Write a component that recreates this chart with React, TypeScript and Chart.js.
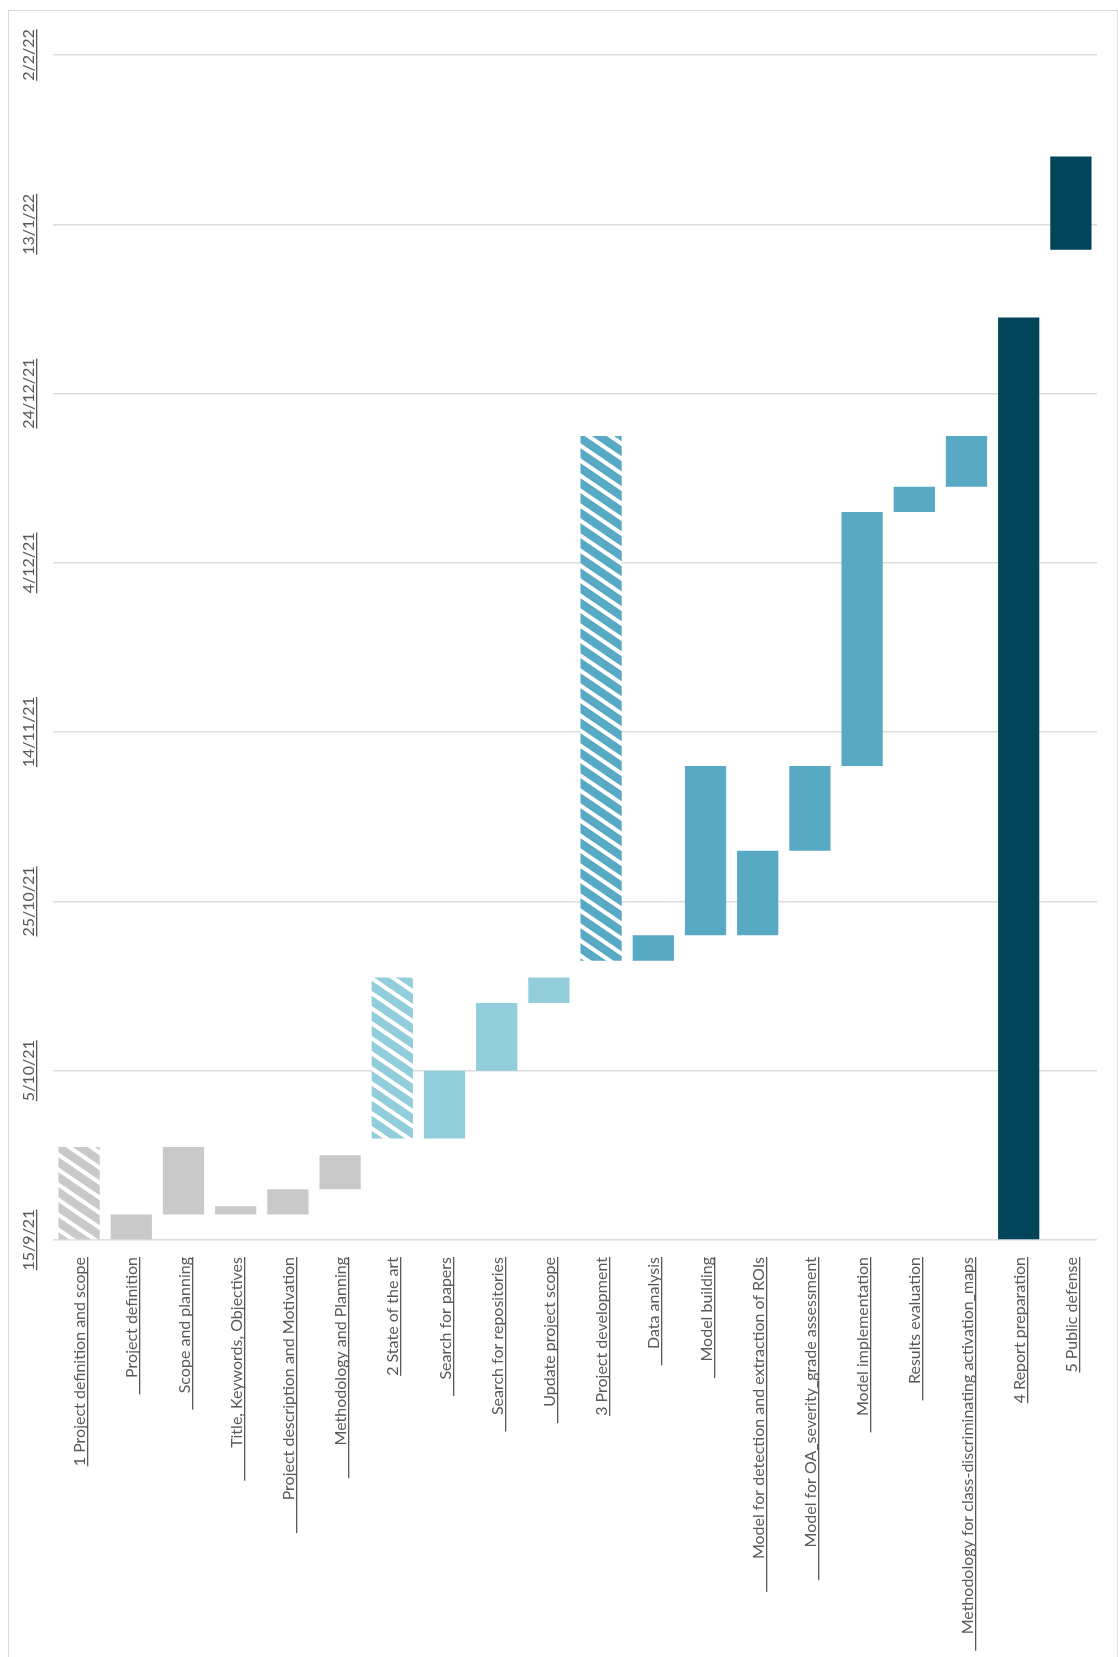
import React, { useEffect, useRef } from 'react';
import { Chart, registerables } from 'chart.js';

Chart.register(...registerables);

const categories = [
  '1 Project definition and scope',
  '    Project definition',
  '    Scope and planning',
  '        Title, Keywords, Objectives',
  '        Project description and Motivation',
  '        Methodology and Planning',
  '2 State of the art',
  '    Search for papers',
  '    Search for repositories',
  '    Update project scope',
  '3 Project development',
  '    Data analysis',
  '    Model building',
  '        Model for detection and extraction of ROIs',
  '        Model for OA_severity_grade assessment',
  '    Model implementation',
  '    Results evaluation',
  '    Methodology for class-discriminating activation_maps',
  '4 Report preparation',
  '5 Public defense',
];

const startDates = [
  '2021-09-15', '2021-09-15', '2021-09-18', '2021-09-18', '2021-09-18', '2021-09-21',
  '2021-09-27', '2021-09-27', '2021-10-05', '2021-10-13',
  '2021-10-18', '2021-10-18', '2021-10-21', '2021-10-21', '2021-10-31', '2021-11-10',
  '2021-12-10', '2021-12-13', '2021-09-15', '2022-01-10',
];

const endDates = [
  '2021-09-26', '2021-09-18', '2021-09-26', '2021-09-19', '2021-09-21', '2021-09-25',
  '2021-10-16', '2021-10-05', '2021-10-13', '2021-10-16',
  '2021-12-19', '2021-10-21', '2021-11-10', '2021-10-31', '2021-11-10', '2021-12-10',
  '2021-12-13', '2021-12-19', '2022-01-02', '2022-01-21',
];

// 'g' gray, 'l' light blue, 'm' mid blue, 'd' dark; uppercase = hatched
const barStyles = [
  'G', 'g', 'g', 'g', 'g', 'g',
  'L', 'l', 'l', 'l',
  'M', 'm', 'm', 'm', 'm', 'm', 'm', 'm',
  'd', 'd',
];

const tickLabels = ['15/9/21', '5/10/21', '25/10/21', '14/11/21', '4/12/21', '24/12/21', '13/1/22', '2/2/22'];
const axisStart = '2021-09-15';
const axisEnd = '2022-02-02';
const tickStepDays = 20;

const palette: Record<string, string> = {
  g: '#C9C9C9',
  l: '#92CDDC',
  m: '#58A9C4',
  d: '#02445A',
};

const DAY = 86400000;
const toDays = (s: string) => (Date.parse(s + 'T00:00:00Z') - Date.parse(axisStart + 'T00:00:00Z')) / DAY;

function makeHatch(color: string): CanvasPattern | string {
  const W = 22;
  const H = 15;
  const c = document.createElement('canvas');
  c.width = W;
  c.height = H;
  const g = c.getContext('2d');
  if (!g) return color;
  g.fillStyle = color;
  g.fillRect(0, 0, W, H);
  g.strokeStyle = '#ffffff';
  g.lineWidth = 4;
  for (const off of [-H, 0, H]) {
    g.beginPath();
    g.moveTo(-2, off - 2 * (H / W));
    g.lineTo(W + 2, H + off + 2 * (H / W));
    g.stroke();
  }
  const p = g.createPattern(c, 'repeat');
  return p || color;
}

const FONT = '16px Lato';
const TEXT = '#595959';

const labelPlugin = {
  id: 'ganttLabels',
  afterDraw(chart: any) {
    const ctx: CanvasRenderingContext2D = chart.ctx;
    const xs = chart.scales.x;
    const ys = chart.scales.y;
    ctx.save();
    ctx.font = FONT;
    ctx.fillStyle = TEXT;
    categories.forEach((lab, i) => {
      const px = xs.getPixelForValue(i);
      ctx.save();
      ctx.translate(Math.round(px) + 6, ys.bottom + 17);
      ctx.rotate(-Math.PI / 2);
      ctx.textAlign = 'right';
      ctx.textBaseline = 'alphabetic';
      ctx.fillText(lab, 0, 0);
      const w = ctx.measureText(lab).width;
      ctx.fillRect(-w, 2, w, 1.3);
      ctx.restore();
    });
    ys.ticks.forEach((t: any, i: number) => {
      const lab = tickLabels[i] ?? '';
      const py = ys.getPixelForValue(t.value);
      ctx.save();
      ctx.translate(25, py);
      ctx.rotate(-Math.PI / 2);
      ctx.textAlign = 'center';
      ctx.textBaseline = 'alphabetic';
      ctx.fillText(lab, 0, 0);
      const w = ctx.measureText(lab).width;
      ctx.fillRect(-w / 2, 2, w, 1.3);
      ctx.restore();
    });
    ctx.restore();
  },
};

export default function App() {
  const ref = useRef<HTMLCanvasElement | null>(null);

  useEffect(() => {
    if (!ref.current) return;
    const colors = barStyles.map((s) => {
      const base = palette[s.toLowerCase()];
      return s === s.toUpperCase() && s !== 'd' ? makeHatch(base) : base;
    });
    const data = startDates.map((s, i) => [toDays(s), toDays(endDates[i])]);
    const chart = new Chart(ref.current, {
      type: 'bar',
      data: {
        labels: categories,
        datasets: [
          {
            data: data as any,
            backgroundColor: colors as any,
            borderWidth: 0,
            borderSkipped: false,
            barPercentage: 0.79,
            categoryPercentage: 1,
          },
        ],
      },
      options: {
        animation: false,
        responsive: false,
        maintainAspectRatio: false,
        layout: { padding: { left: 44, right: 20, top: 44, bottom: 417 } },
        plugins: {
          legend: { display: false },
          tooltip: { enabled: false },
          title: { display: false },
        },
        scales: {
          x: {
            type: 'category',
            display: false,
            grid: { display: false },
          },
          y: {
            type: 'linear',
            min: 0,
            max: toDays(axisEnd),
            ticks: { display: false, stepSize: tickStepDays },
            grid: { color: '#DCDCDC', lineWidth: 1.5, drawTicks: false },
            border: { display: false },
            afterFit: (s: any) => {
              s.width = 0;
            },
          },
        },
      },
      plugins: [labelPlugin],
    });
    return () => chart.destroy();
  }, []);

  return (
    <div
      style={{
        position: 'absolute',
        left: 8,
        top: 10,
        width: 1110,
        height: 1647,
        border: '1px solid #D9D9D9',
        borderBottom: 'none',
        boxSizing: 'border-box',
        background: '#ffffff',
      }}
    >
      <canvas ref={ref} width={1108} height={1646} style={{ display: 'block', width: 1108, height: 1646 }} />
    </div>
  );
}
